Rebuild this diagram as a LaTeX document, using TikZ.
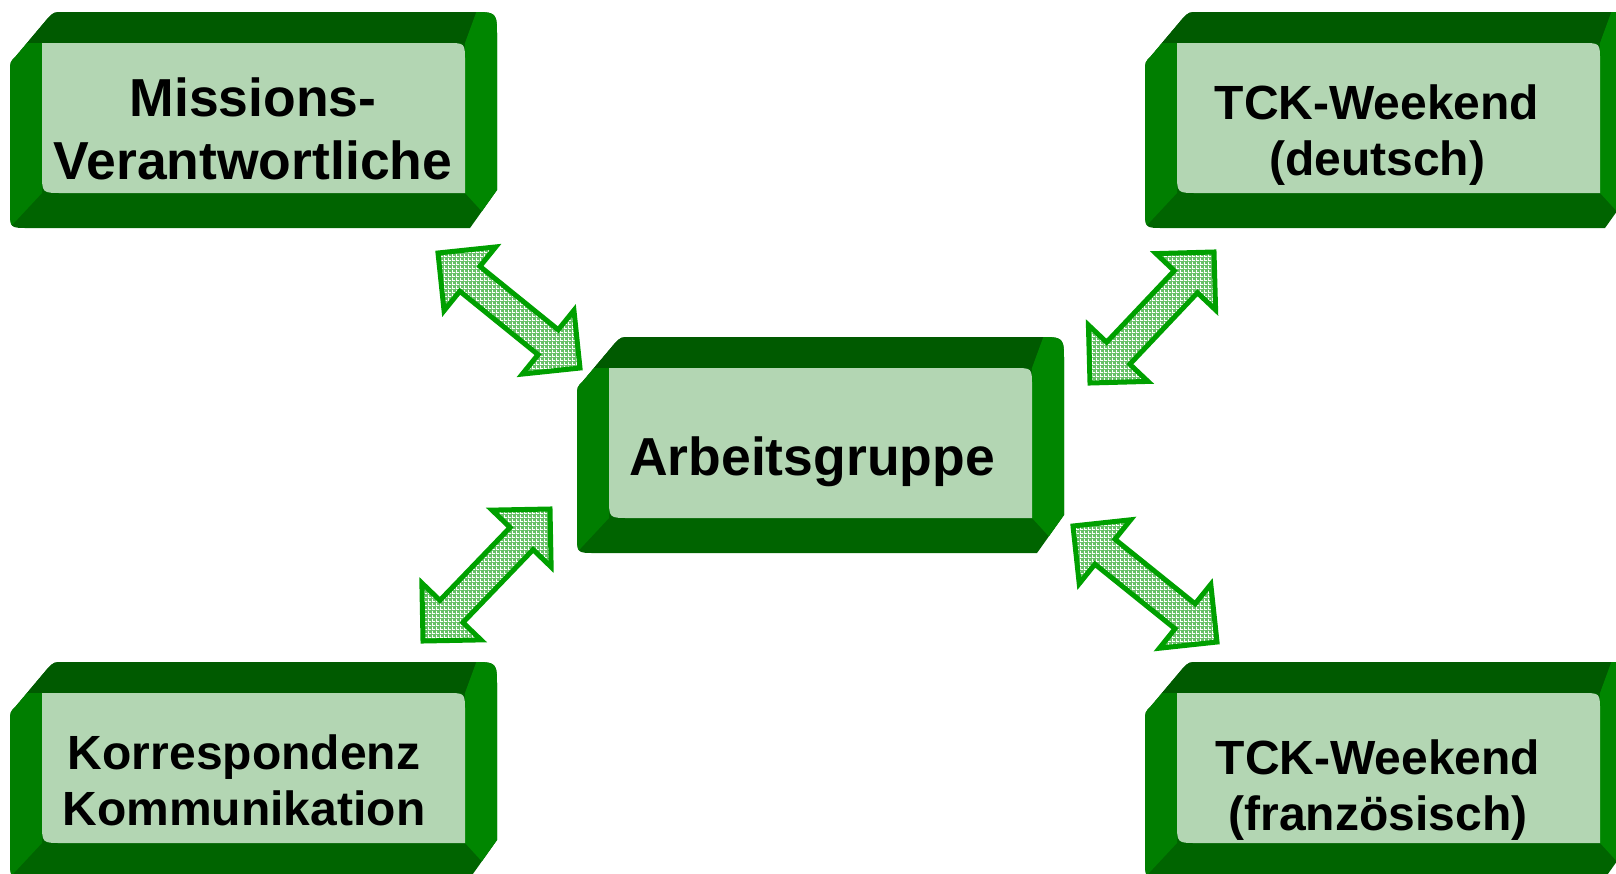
\documentclass[tikz,border=0pt]{standalone}
\usepackage{fontspec}
\setmainfont{Liberation Sans}
\usetikzlibrary{calc,patterns}
\definecolor{topband}{RGB}{0,90,0}
\definecolor{leftband}{RGB}{0,126,0}
\definecolor{botband}{RGB}{0,100,0}
\definecolor{rightband}{RGB}{0,134,0}
\definecolor{facecol}{RGB}{179,214,179}
\definecolor{arrline}{RGB}{0,160,0}
\definecolor{arrfill}{RGB}{104,192,104}
\pgfdeclarepatternformonly{mygrid}{\pgfqpoint{0pt}{0pt}}{\pgfqpoint{4pt}{4pt}}{\pgfqpoint{4pt}{4pt}}{%
  \pgfsetlinewidth{1pt}%
  \pgfpathmoveto{\pgfqpoint{0pt}{0.5pt}}\pgfpathlineto{\pgfqpoint{4pt}{0.5pt}}%
  \pgfpathmoveto{\pgfqpoint{0.5pt}{0pt}}\pgfpathlineto{\pgfqpoint{0.5pt}{4pt}}%
  \pgfusepath{stroke}}
\tikzset{
  lblbig/.style={font=\bfseries\fontsize{53.5}{63}\selectfont, align=center, anchor=base, inner sep=0pt},
  lblsmall/.style={font=\bfseries\fontsize{48}{56}\selectfont, align=center, anchor=base, inner sep=0pt},
  dblarr/.style={draw=arrline, line width=5pt, line join=miter, miter limit=10,
    preaction={fill=arrfill}, pattern=mygrid, pattern color=white}
}
\newcommand\bevelbox[3]{%
  \begin{scope}[shift={(#2,#3)}]
    \begin{scope}
      \clip (0,60) .. controls (0,50) .. (6,44) -- (38,6) .. controls (44,0) .. (54,0) -- (462,0) .. controls (487,0) .. (487,25) -- (487,178) -- (460,216) -- (18,216) .. controls (0,216) .. (0,198) -- cycle;
      \fill[botband] (-10,-10) rectangle (500,230);
      \fill[topband] (-10,-10) -- (470,-10) -- (455,31) -- (-10,31) -- cycle;
      \fill[leftband] (-10,31) -- (32,31) -- (32,181) -- (-10,226) -- cycle;
      \fill[rightband] (470,-10) -- (500,-10) -- (500,230) -- (455,181) -- (455,31) -- cycle;
    \end{scope}
    \fill[facecol] (32,31) -- (437,31) .. controls (455,31) .. (455,49) -- (455,181) -- (52,181) .. controls (32,181) .. (32,161) -- cycle;
    \coordinate (#1) at (243.5,106);
  \end{scope}}
\newcommand\dblarrow[3]{%
  \coordinate (#1a) at #2;
  \coordinate (#1b) at #3;
  \coordinate (#1ah) at ($(#1a)!41pt!(#1b)$);
  \coordinate (#1bh) at ($(#1b)!41pt!(#1a)$);
  \draw[dblarr] (#1a) -- ($(#1ah)!41pt!90:(#1b)$) -- ($(#1ah)!16pt!90:(#1b)$)
    -- ($(#1bh)!16pt!-90:(#1a)$) -- ($(#1bh)!41pt!-90:(#1a)$) -- (#1b)
    -- ($(#1bh)!41pt!90:(#1a)$) -- ($(#1bh)!16pt!90:(#1a)$)
    -- ($(#1ah)!16pt!-90:(#1b)$) -- ($(#1ah)!41pt!-90:(#1b)$) -- cycle;}
\begin{document}
\begin{tikzpicture}[x=1pt,y=-1pt]
  \useasboundingbox (0,0) rectangle (1616,873);
  \clip (0,0) rectangle (1616,873);
  \bevelbox{boxtl}{10}{12}
  \bevelbox{boxc}{577}{337}
  \bevelbox{boxtr}{1145}{12}
  \bevelbox{boxbl}{10}{662}
  \bevelbox{boxbr}{1145}{662}
  \node[lblbig] (tl) at (253,179) {Missions-\\Verantwortliche};
  \node[lblbig] (c) at (812,475) {Arbeitsgruppe};
  \node[lblsmall] (tr) at (1377,175) {TCK-Weekend\\(deutsch)};
  \node[lblsmall] (bl) at (244,825) {Korrespondenz\\Kommunikation};
  \node[lblsmall] (br) at (1378,830) {TCK-Weekend\\(französisch)};
  \dblarrow{aa}{(438,253)}{(580,368)}
  \dblarrow{ab}{(1214,252)}{(1090,383)}
  \dblarrow{ac}{(550,509)}{(423,641)}
  \dblarrow{ad}{(1073,526)}{(1217,642)}
\end{tikzpicture}
\end{document}
